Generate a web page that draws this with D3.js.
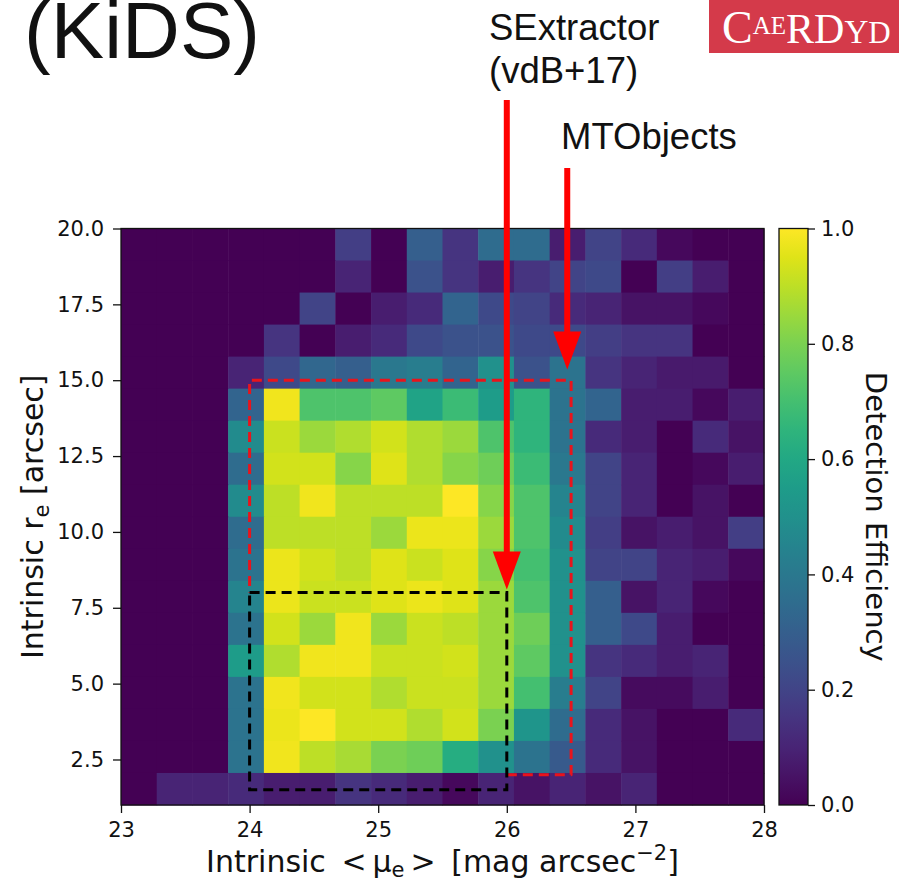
<!DOCTYPE html>
<html>
<head>
<meta charset="utf-8">
<script src="https://cdn.jsdelivr.net/npm/d3@7"></script>
<style>
  body { margin: 0; background: #fff; }
</style>
</head>
<body>
<div id="container"></div>
<script>
/* CONSTANTS AND GLOBALS */
const width = 899,
  height = 885,
  margin = { top: 228.5, bottom: 80, left: 121, right: 135 }

/* DATA */
// bin layout of the histogram
const xDomain = [23, 28]
const yDomain = [1, 20]
const nX = 18
const nY = 18

// detection efficiency per cell, rows from top (high r_e) to bottom (low r_e)
const efficiency = [
  [0, 0, 0, 0, 0, 0, 0.18, 0, 0.30, 0.15, 0.35, 0.35, 0.08, 0.20, 0.12, 0.02, 0, 0],
  [0, 0, 0, 0, 0, 0, 0.10, 0, 0.25, 0.15, 0.08, 0.15, 0.20, 0.22, 0, 0.18, 0.08, 0],
  [0, 0, 0, 0, 0, 0.20, 0, 0.08, 0.12, 0.32, 0.22, 0.20, 0.12, 0.10, 0.05, 0.05, 0.02, 0],
  [0, 0, 0, 0, 0.15, 0, 0.08, 0.12, 0.22, 0.25, 0.25, 0.22, 0.22, 0.18, 0.15, 0.15, 0, 0],
  [0, 0, 0, 0.10, 0.22, 0.33, 0.30, 0.40, 0.42, 0.32, 0.50, 0.25, 0.38, 0.15, 0.10, 0.07, 0.07, 0],
  [0, 0, 0, 0.32, 0.98, 0.72, 0.72, 0.75, 0.58, 0.68, 0.55, 0.65, 0.38, 0.32, 0.08, 0.08, 0.02, 0.08],
  [0, 0, 0, 0.48, 0.92, 0.85, 0.88, 0.93, 0.88, 0.85, 0.72, 0.65, 0.38, 0.12, 0.08, 0, 0.12, 0.05],
  [0, 0, 0, 0.35, 0.93, 0.93, 0.82, 0.95, 0.88, 0.82, 0.78, 0.68, 0.40, 0.20, 0.10, 0, 0.02, 0.08],
  [0, 0, 0, 0.48, 0.90, 0.98, 0.90, 0.90, 0.90, 1.00, 0.82, 0.72, 0.45, 0.20, 0.10, 0, 0.05, 0],
  [0, 0, 0, 0.35, 0.90, 0.90, 0.90, 0.85, 0.97, 0.97, 0.85, 0.72, 0.48, 0.18, 0.05, 0.08, 0.05, 0.18],
  [0, 0, 0, 0.38, 0.97, 0.93, 0.90, 0.95, 0.92, 0.95, 0.82, 0.70, 0.50, 0.20, 0.20, 0.10, 0.08, 0.02],
  [0, 0, 0, 0.45, 0.97, 0.92, 0.92, 0.95, 0.97, 0.95, 0.85, 0.72, 0.50, 0.30, 0.05, 0.10, 0.02, 0],
  [0, 0, 0, 0.38, 0.93, 0.85, 0.98, 0.85, 0.92, 0.90, 0.85, 0.78, 0.50, 0.30, 0.22, 0.08, 0, 0],
  [0, 0, 0, 0.55, 0.88, 0.98, 0.98, 0.92, 0.92, 0.93, 0.85, 0.75, 0.50, 0.15, 0.12, 0.08, 0.10, 0],
  [0, 0, 0, 0.38, 0.98, 0.93, 0.93, 0.88, 0.92, 0.92, 0.85, 0.70, 0.42, 0.20, 0.03, 0.03, 0.08, 0],
  [0, 0, 0, 0.38, 0.97, 1.00, 0.93, 0.93, 0.88, 0.93, 0.80, 0.52, 0.35, 0.12, 0.05, 0, 0, 0.12],
  [0, 0, 0, 0.38, 0.98, 0.90, 0.87, 0.80, 0.78, 0.62, 0.50, 0.38, 0.28, 0.12, 0.05, 0, 0, 0],
  [0, 0.10, 0.10, 0.12, 0.08, 0.08, 0.15, 0.12, 0.08, 0.02, 0.10, 0.05, 0.10, 0.05, 0.10, 0, 0, 0]
]

// tick labels
const xTicks = [23, 24, 25, 26, 27, 28]
const yTicks = [2.5, 5.0, 7.5, 10.0, 12.5, 15.0, 17.5, 20.0]
const cTicks = [0.0, 0.2, 0.4, 0.6, 0.8, 1.0]

// selection boxes [x, y] in data units
const mtoPath = [[26, 2], [26.5, 2], [26.5, 15], [24, 15], [24, 8]]
const sexBox = { x0: 24, x1: 26, y0: 1.5, y1: 8 }

// arrows: x position and tip height (data units)
const arrows = [
  { x: 26.0, tip: 8.1, top: 100 },
  { x: 26.47, tip: 15.35, top: 168 }
]

const SANS = "'DejaVu Sans', sans-serif"
const ARIAL = "'Liberation Sans', Arial, sans-serif"

/* SCALES */
const xScale = d3.scaleLinear()
  .domain(xDomain)
  .range([margin.left, width - margin.right])

const yScale = d3.scaleLinear()
  .domain(yDomain)
  .range([height - margin.bottom, margin.top])

const color = d3.scaleSequential(d3.interpolateViridis).domain([0, 1])

const dx = (xDomain[1] - xDomain[0]) / nX
const dy = (yDomain[1] - yDomain[0]) / nY

const cells = []
efficiency.forEach((row, r) => {
  row.forEach((v, c) => {
    cells.push({
      x0: xDomain[0] + c * dx,
      y1: yDomain[1] - r * dy,
      v: v
    })
  })
})

/* CREATE SVG ELEMENT */
const svg = d3.select("#container")
  .append("svg")
  .attr("width", width)
  .attr("height", height)

// // HEATMAP CELLS
svg.append("g")
  .selectAll("rect")
  .data(cells)
  .join("rect")
  .attr("x", d => xScale(d.x0))
  .attr("y", d => yScale(d.y1))
  .attr("width", d => xScale(d.x0 + dx) - xScale(d.x0) + 0.5)
  .attr("height", d => yScale(d.y1 - dy) - yScale(d.y1) + 0.5)
  .attr("fill", d => color(d.v))

// // AXES
const xAxis = d3.axisBottom(xScale)
  .tickValues(xTicks)
  .tickFormat(d3.format("d"))
  .tickSize(8)
  .tickPadding(9)

const yAxis = d3.axisLeft(yScale)
  .tickValues(yTicks)
  .tickFormat(d3.format(".1f"))
  .tickSize(8)
  .tickPadding(9)

const xg = svg.append("g")
  .attr("transform", `translate(0, ${height - margin.bottom})`)
  .call(xAxis)

const yg = svg.append("g")
  .attr("transform", `translate(${margin.left}, 0)`)
  .call(yAxis)

;[xg, yg].forEach(g => {
  g.select(".domain").remove()
  g.selectAll("text").attr("font-size", 21).attr("font-family", SANS).attr("fill", "#111")
  g.selectAll("line").attr("stroke", "#111").attr("stroke-width", 1.3)
})

// frame
svg.append("rect")
  .attr("x", margin.left)
  .attr("y", margin.top)
  .attr("width", width - margin.right - margin.left)
  .attr("height", height - margin.bottom - margin.top)
  .attr("fill", "none")
  .attr("stroke", "#111")
  .attr("stroke-width", 1.3)

// axis labels
const xl = svg.append("text")
  .attr("x", (margin.left + width - margin.right) / 2)
  .attr("y", 872)
  .attr("text-anchor", "middle")
  .attr("font-family", SANS)
  .attr("font-size", 30)
  .attr("fill", "#111")
xl.append("tspan").text("Intrinsic \u2009<\u2009\u03bc")
xl.append("tspan").attr("font-size", 21).attr("dy", 5).text("e")
xl.append("tspan").attr("dy", -5).text("\u2009>\u2009 [mag arcsec")
xl.append("tspan").attr("font-size", 21).attr("dy", -12).text("\u22122")
xl.append("tspan").attr("dy", 12).text("]")

const yl = svg.append("text")
  .attr("transform", `translate(43, ${(margin.top + height - margin.bottom) / 2}) rotate(-90)`)
  .attr("text-anchor", "middle")
  .attr("font-family", SANS)
  .attr("font-size", 30)
  .attr("fill", "#111")
yl.append("tspan").text("Intrinsic r")
yl.append("tspan").attr("font-size", 21).attr("dy", 6).text("e")
yl.append("tspan").attr("dy", -6).text(" [arcsec]")

// // COLORBAR
const cbX = 779, cbW = 29
const cScale = d3.scaleLinear()
  .domain([0, 1])
  .range([height - margin.bottom, margin.top])

const grad = svg.append("defs").append("linearGradient")
  .attr("id", "viridis")
  .attr("x1", "0%").attr("y1", "100%")
  .attr("x2", "0%").attr("y2", "0%")

grad.selectAll("stop")
  .data(d3.range(0, 1.0001, 0.05))
  .join("stop")
  .attr("offset", d => `${d * 100}%`)
  .attr("stop-color", d => color(d))

svg.append("rect")
  .attr("x", cbX)
  .attr("y", margin.top)
  .attr("width", cbW)
  .attr("height", height - margin.bottom - margin.top)
  .attr("fill", "url(#viridis)")
  .attr("stroke", "#111")
  .attr("stroke-width", 1.3)

const cg = svg.append("g")
  .attr("transform", `translate(${cbX + cbW}, 0)`)
  .call(d3.axisRight(cScale).tickValues(cTicks).tickFormat(d3.format(".1f")).tickSize(7).tickPadding(6))
cg.select(".domain").remove()
cg.selectAll("text").attr("font-size", 21).attr("font-family", SANS).attr("fill", "#111")
cg.selectAll("line").attr("stroke", "#111").attr("stroke-width", 1.3)

svg.append("text")
  .attr("transform", `translate(866, ${(margin.top + height - margin.bottom) / 2}) rotate(90)`)
  .attr("text-anchor", "middle")
  .attr("font-family", SANS)
  .attr("font-size", 29)
  .attr("fill", "#111")
  .text("Detection Efficiency")

// // SELECTION BOXES
const line = d3.line().x(d => xScale(d[0])).y(d => yScale(d[1]))

svg.append("path")
  .attr("d", line(mtoPath))
  .attr("fill", "none")
  .attr("stroke", "#e8141c")
  .attr("stroke-width", 3)
  .attr("stroke-dasharray", "10,6")
  .attr("stroke-linejoin", "round")

svg.append("rect")
  .attr("x", xScale(sexBox.x0))
  .attr("y", yScale(sexBox.y1))
  .attr("width", xScale(sexBox.x1) - xScale(sexBox.x0))
  .attr("height", yScale(sexBox.y0) - yScale(sexBox.y1))
  .attr("fill", "none")
  .attr("stroke", "#000")
  .attr("stroke-width", 3)
  .attr("stroke-dasharray", "10,6")

// // ARROWS + LABELS
arrows.forEach(a => {
  const ax = xScale(a.x), tip = yScale(a.tip)
  svg.append("line")
    .attr("x1", ax).attr("x2", ax)
    .attr("y1", a.top).attr("y2", tip - 30)
    .attr("stroke", "#ff0000")
    .attr("stroke-width", 6)
  svg.append("path")
    .attr("d", `M${ax - 14},${tip - 38} L${ax + 14},${tip - 38} L${ax},${tip} Z`)
    .attr("fill", "#ff0000")
})

svg.append("text")
  .attr("x", 489).attr("y", 40)
  .attr("font-family", ARIAL)
  .attr("font-size", 36.5)
  .attr("fill", "#111")
  .text("SExtractor")

svg.append("text")
  .attr("x", 489).attr("y", 83)
  .attr("font-family", ARIAL)
  .attr("font-size", 36.5)
  .attr("fill", "#111")
  .text("(vdB+17)")

svg.append("text")
  .attr("x", 561).attr("y", 149)
  .attr("font-family", ARIAL)
  .attr("font-size", 36.5)
  .attr("fill", "#111")
  .text("MTObjects")

// slide title fragment
svg.append("text")
  .attr("x", 24).attr("y", 58)
  .attr("font-family", ARIAL)
  .attr("font-size", 80)
  .attr("textLength", 236)
  .attr("fill", "#111")
  .text("(KiDS)")

// // LOGO
svg.append("rect")
  .attr("x", 709).attr("y", 0)
  .attr("width", 190).attr("height", 53)
  .attr("fill", "#d43a4a")

const logo = svg.append("text")
  .attr("x", 722).attr("y", 43)
  .attr("font-family", "'Liberation Serif', 'DejaVu Serif', serif")
  .attr("fill", "#fff")
  .attr("font-size", 46)
logo.append("tspan").text("C")
logo.append("tspan").attr("font-size", 25).attr("dy", -9).text("AE")
logo.append("tspan").attr("font-size", 42).attr("dy", 9).text("RD")
logo.append("tspan").attr("font-size", 33).text("Y")
logo.append("tspan").attr("font-size", 31).text("D")
</script>
</body>
</html>
